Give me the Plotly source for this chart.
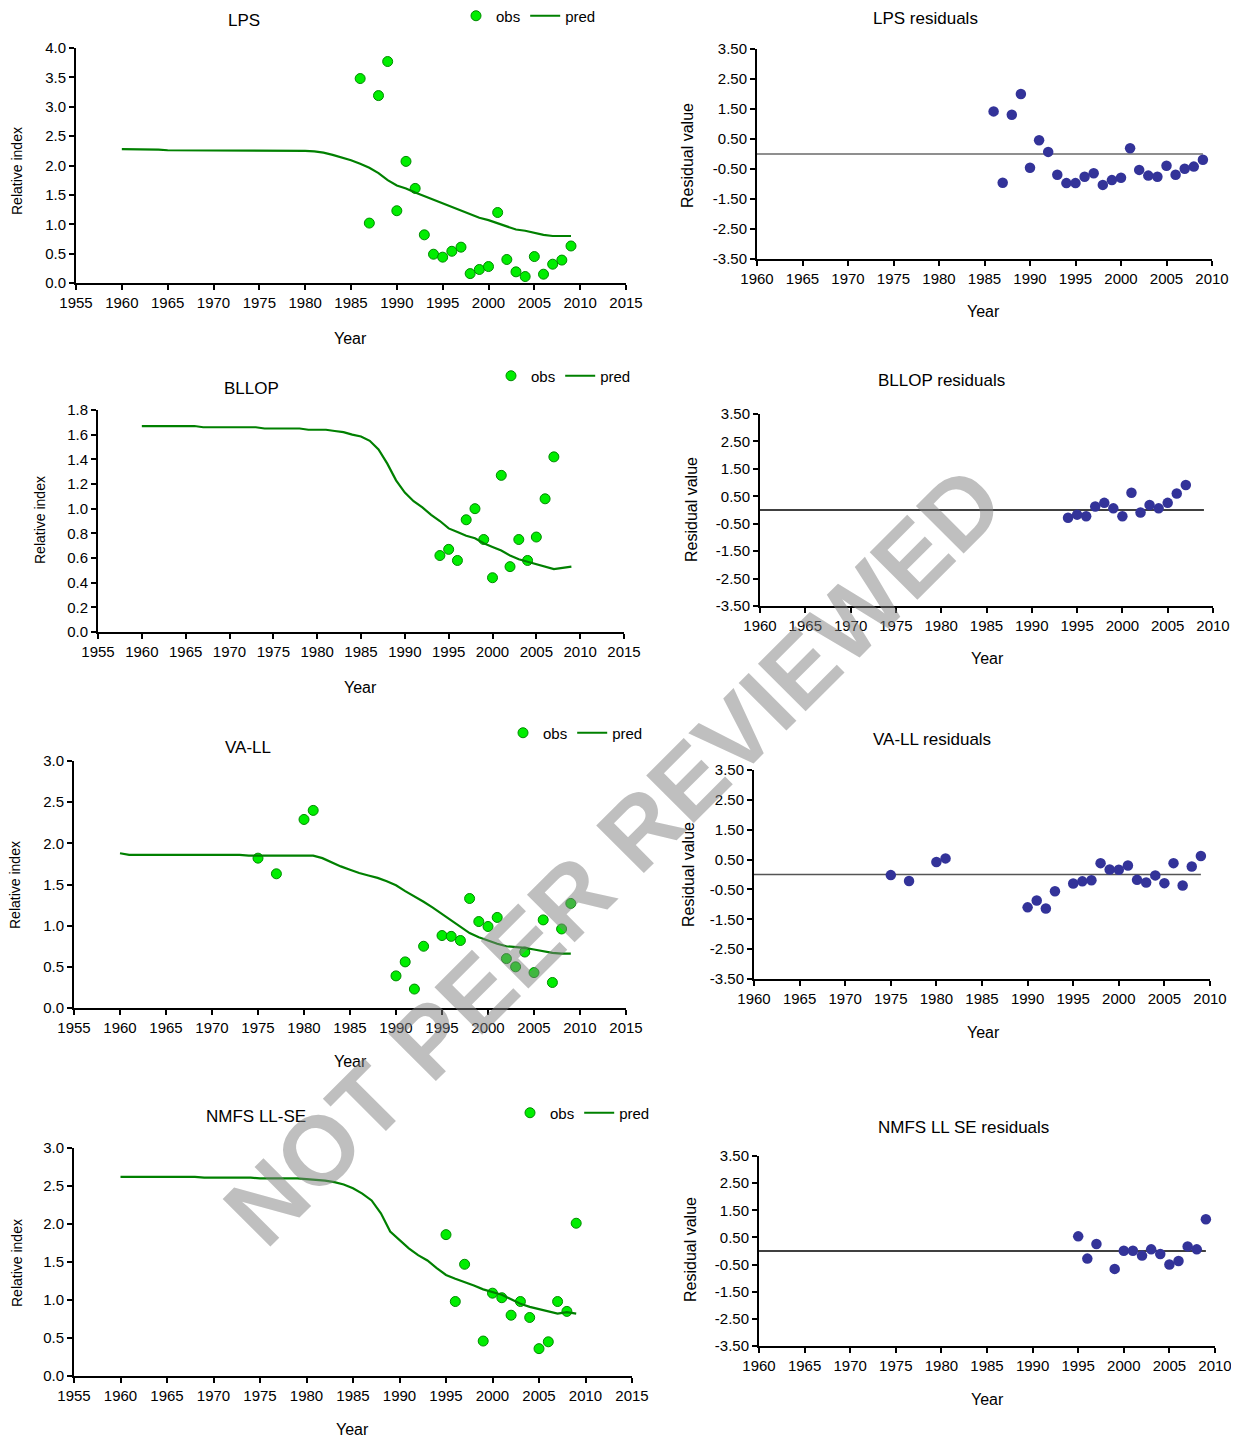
import plotly.graph_objects as go

# page geometry: the html body adds an 8px margin, so the figure is offset by OFF
PAGE_W, PAGE_H = 1239, 1439
OFF = 8
W, H = PAGE_W - OFF, PAGE_H - OFF

# ---------------- data ----------------
pred_years = list(range(1960, 2010))

lps_pred = [2.28, 2.28, 2.28, 2.28, 2.27, 2.26, 2.26, 2.26, 2.26, 2.26,
            2.26, 2.26, 2.26, 2.26, 2.26, 2.25, 2.25, 2.25, 2.25, 2.25,
            2.25, 2.24, 2.22, 2.18, 2.14, 2.09, 2.03, 1.96, 1.87, 1.75,
            1.66, 1.61, 1.54, 1.48, 1.42, 1.36, 1.30, 1.24, 1.17, 1.11,
            1.07, 1.02, 0.96, 0.91, 0.89, 0.85, 0.82, 0.80, 0.80, 0.80]
lps_obs_years = list(range(1986, 2010))
lps_obs = [3.48, 1.02, 3.19, 3.77, 1.23, 2.07, 1.61, 0.82, 0.49, 0.44, 0.54, 0.61,
           0.16, 0.23, 0.28, 1.20, 0.40, 0.19, 0.11, 0.45, 0.15, 0.32, 0.39, 0.63]
lps_res = [1.42, -0.96, 1.31, 2.00, -0.46, 0.46, 0.07, -0.69, -0.97, -0.97, -0.76, -0.64,
           -1.03, -0.87, -0.79, 0.19, -0.53, -0.72, -0.76, -0.39, -0.69, -0.49, -0.42, -0.19]

bllop_pred = [1.67, 1.67, 1.67, 1.67, 1.67, 1.67, 1.67, 1.66, 1.66, 1.66,
              1.66, 1.66, 1.66, 1.66, 1.65, 1.65, 1.65, 1.65, 1.65, 1.64,
              1.64, 1.64, 1.63, 1.62, 1.60, 1.585, 1.55, 1.48, 1.365, 1.23,
              1.13, 1.06, 1.01, 0.95, 0.90, 0.84, 0.81, 0.78, 0.76, 0.72,
              0.69, 0.66, 0.62, 0.59, 0.57, 0.55, 0.53, 0.51, 0.52, 0.53]
bllop_obs_years = list(range(1994, 2008))
bllop_obs = [0.62, 0.67, 0.58, 0.91, 1.00, 0.75, 0.44, 1.27, 0.53, 0.75, 0.58, 0.77, 1.08, 1.42]
bllop_res = [-0.28, -0.17, -0.23, 0.13, 0.26, 0.06, -0.23, 0.63, -0.09, 0.18, 0.06, 0.26, 0.60, 0.91]

vall_pred = [1.88, 1.86, 1.86, 1.86, 1.86, 1.86, 1.86, 1.86, 1.86, 1.86,
             1.86, 1.86, 1.86, 1.86, 1.85, 1.85, 1.85, 1.85, 1.85, 1.85,
             1.85, 1.85, 1.82, 1.77, 1.72, 1.68, 1.64, 1.61, 1.58, 1.54,
             1.49, 1.42, 1.36, 1.29, 1.22, 1.14, 1.06, 0.98, 0.91, 0.86,
             0.82, 0.78, 0.75, 0.74, 0.73, 0.71, 0.69, 0.67, 0.66, 0.66]
vall_obs_years = [1975, 1977, 1980, 1981, 1990, 1991, 1992, 1993, 1995, 1996, 1997, 1998,
                  1999, 2000, 2001, 2002, 2003, 2004, 2005, 2006, 2007, 2008, 2009]
vall_obs = [1.82, 1.63, 2.29, 2.40, 0.39, 0.56, 0.23, 0.75, 0.88, 0.87, 0.82, 1.33,
            1.05, 0.99, 1.10, 0.60, 0.50, 0.68, 0.43, 1.07, 0.31, 0.96, 1.27]
vall_res = [-0.02, -0.22, 0.42, 0.54, -1.10, -0.87, -1.14, -0.56, -0.30, -0.23, -0.19, 0.38,
            0.17, 0.16, 0.30, -0.18, -0.27, -0.03, -0.29, 0.38, -0.37, 0.27, 0.62]

nmfs_pred = [2.62, 2.62, 2.62, 2.62, 2.62, 2.62, 2.62, 2.62, 2.62, 2.61,
             2.61, 2.61, 2.61, 2.61, 2.61, 2.60, 2.60, 2.60, 2.60, 2.60,
             2.59, 2.58, 2.57, 2.55, 2.52, 2.47, 2.40, 2.31, 2.14, 1.90,
             1.79, 1.68, 1.59, 1.52, 1.42, 1.33, 1.28, 1.24, 1.19, 1.14,
             1.11, 1.07, 1.01, 0.95, 0.91, 0.88, 0.85, 0.82, 0.84, 0.82]
nmfs_obs_years = [1995, 1996, 1997, 1999, 2000, 2001, 2002, 2003, 2004, 2005, 2006, 2007, 2008, 2009]
nmfs_obs = [1.86, 0.98, 1.47, 0.46, 1.09, 1.03, 0.80, 0.98, 0.77, 0.36, 0.45, 0.98, 0.85, 2.01]
nmfs_res = [0.54, -0.28, 0.26, -0.66, 0.01, 0.01, -0.17, 0.06, -0.11, -0.50, -0.37, 0.17, 0.06, 1.17]

zero_line_years = [1960, 2009]
zero_line_vals = [0, 0]

res_tick_vals = [-3.5, -2.5, -1.5, -0.5, 0.5, 1.5, 2.5, 3.5]
res_tick_text = ["-3.50", "-2.50", "-1.50", "-0.50", "0.50", "1.50", "2.50", "3.50"]

titles_idx = ["LPS", "BLLOP", "VA-LL", "NMFS LL-SE"]
titles_res = ["LPS residuals", "BLLOP residuals", "VA-LL residuals", "NMFS LL SE residuals"]

# ---------------- styling / layout ----------------
FONT = "Liberation Sans, Arial, sans-serif"
OBS_FILL = "#00EE00"
OBS_EDGE = "#008A00"
PRED_COL = "#008000"
RES_COL = "#333399"
TICK_SIZE = 15


def fx(px):
    return (px - OFF) / W


def fy(py):
    return 1 - (py - OFF) / H


def dom_x(a, b):
    return [fx(a), fx(b)]


def dom_y(top, bottom):
    return [fy(bottom), fy(top)]


idx_panels = [
    dict(pred=lps_pred, oy=lps_obs_years, ov=lps_obs, x=(76, 626), y=(48, 283), yr=[0, 4], dt=0.5,
         fmt=".1f", title=(244, 20), ytitle=(17, 171), xtitle=(350, 338), leg=(456, 16)),
    dict(pred=bllop_pred, oy=bllop_obs_years, ov=bllop_obs, x=(98, 624), y=(410, 632), yr=[0, 1.8], dt=0.2,
         fmt=".1f", title=(251, 388), ytitle=(40, 520), xtitle=(360, 687), leg=(491, 376)),
    dict(pred=vall_pred, oy=vall_obs_years, ov=vall_obs, x=(74, 626), y=(761, 1008), yr=[0, 3], dt=0.5,
         fmt=".1f", title=(248, 747), ytitle=(15, 885), xtitle=(350, 1061), leg=(503, 733)),
    dict(pred=nmfs_pred, oy=nmfs_obs_years, ov=nmfs_obs, x=(74, 632), y=(1148, 1376), yr=[0, 3], dt=0.5,
         fmt=".1f", title=(256, 1116), ytitle=(17, 1263), xtitle=(353, 1429), leg=(510, 1113)),
]
res_panels = [
    dict(oy=lps_obs_years, ov=lps_res, x=(757, 1212), y=(49, 259), zc="#6a6a6a",
         title=(925, 18), ytitle=(688, 156), xtitle=(984, 311)),
    dict(oy=bllop_obs_years, ov=bllop_res, x=(760, 1213), y=(414, 606), zc="#000000",
         title=(941, 381), ytitle=(691, 510), xtitle=(987, 658)),
    dict(oy=vall_obs_years, ov=vall_res, x=(754, 1210), y=(770, 979), zc="#555555",
         title=(932, 739), ytitle=(688, 875), xtitle=(983, 1032)),
    dict(oy=nmfs_obs_years, ov=nmfs_res, x=(759, 1215), y=(1156, 1346), zc="#000000",
         title=(963, 1127), ytitle=(690, 1250), xtitle=(987, 1399)),
]

fig = go.Figure()
layout = dict(width=W, height=H, margin=dict(l=0, r=0, t=0, b=0, autoexpand=False),
              paper_bgcolor="white", plot_bgcolor="white",
              font=dict(family=FONT, size=14, color="black"))
annotations = []

axis_common = dict(showline=True, linecolor="black", linewidth=2, ticks="outside",
                   ticklen=5, tickwidth=1.5, tickcolor="black", showgrid=False,
                   zeroline=False, tickfont=dict(family=FONT, size=TICK_SIZE, color="black"),
                   fixedrange=True, automargin=False)


def add_text(txt, pos, size, angle=0):
    annotations.append(dict(text=txt, x=fx(pos[0]), y=fy(pos[1]), xref="paper", yref="paper",
                            showarrow=False, xanchor="center", yanchor="middle", textangle=angle,
                            font=dict(family=FONT, size=size, color="black")))


n = 0
for i, p in enumerate(idx_panels):
    n += 1
    xa, ya = f"x{n}", f"y{n}"
    leg = "legend" if i == 0 else f"legend{i + 1}"
    fig.add_trace(go.Scatter(x=p["oy"], y=p["ov"], mode="markers", name="obs",
                             marker=dict(size=10, color=OBS_FILL, line=dict(color=OBS_EDGE, width=1)),
                             xaxis=xa, yaxis=ya, legend=leg, showlegend=True))
    fig.add_trace(go.Scatter(x=pred_years, y=p["pred"], mode="lines", name="pred",
                             line=dict(color=PRED_COL, width=2.2),
                             xaxis=xa, yaxis=ya, legend=leg, showlegend=True))
    layout[f"xaxis{n}"] = dict(axis_common, domain=dom_x(*p["x"]), range=[1955, 2015],
                               tick0=1955, dtick=5, anchor=ya)
    layout[f"yaxis{n}"] = dict(axis_common, domain=dom_y(*p["y"]), range=p["yr"],
                               tick0=0, dtick=p["dt"], tickformat=p["fmt"], anchor=xa)
    layout[leg] = dict(orientation="h", x=fx(p["leg"][0]), y=fy(p["leg"][1]),
                       xanchor="left", yanchor="middle", bgcolor="rgba(0,0,0,0)",
                       font=dict(family=FONT, size=15, color="black"),
                       itemclick=False, itemdoubleclick=False)
    add_text(titles_idx[i], p["title"], 17)
    add_text("Relative index", p["ytitle"], 14, -90)
    add_text("Year", p["xtitle"], 16)

for i, p in enumerate(res_panels):
    n += 1
    xa, ya = f"x{n}", f"y{n}"
    fig.add_trace(go.Scatter(x=zero_line_years, y=zero_line_vals, mode="lines",
                             line=dict(color=p["zc"], width=1.3), xaxis=xa, yaxis=ya,
                             showlegend=False, hoverinfo="skip"))
    fig.add_trace(go.Scatter(x=p["oy"], y=p["ov"], mode="markers", name="residual",
                             marker=dict(size=10.5, color=RES_COL), xaxis=xa, yaxis=ya,
                             showlegend=False))
    layout[f"xaxis{n}"] = dict(axis_common, domain=dom_x(*p["x"]), range=[1960, 2010],
                               tick0=1960, dtick=5, anchor=ya)
    layout[f"yaxis{n}"] = dict(axis_common, domain=dom_y(*p["y"]), range=[-3.5, 3.5],
                               tickvals=res_tick_vals, ticktext=res_tick_text, anchor=xa)
    add_text(titles_res[i], p["title"], 17)
    add_text("Residual value", p["ytitle"], 16, -90)
    add_text("Year", p["xtitle"], 16)

# watermark
annotations.append(dict(text="NOT PEER REVIEWED", x=fx(613), y=fy(856), xref="paper", yref="paper",
                        showarrow=False, xanchor="center", yanchor="middle", textangle=-45,
                        font=dict(family=FONT, size=98, weight="bold",
                                  color="rgba(128,128,128,0.5)")))

layout["annotations"] = annotations
fig.update_layout(**layout)
fig.write_html("out.html")
